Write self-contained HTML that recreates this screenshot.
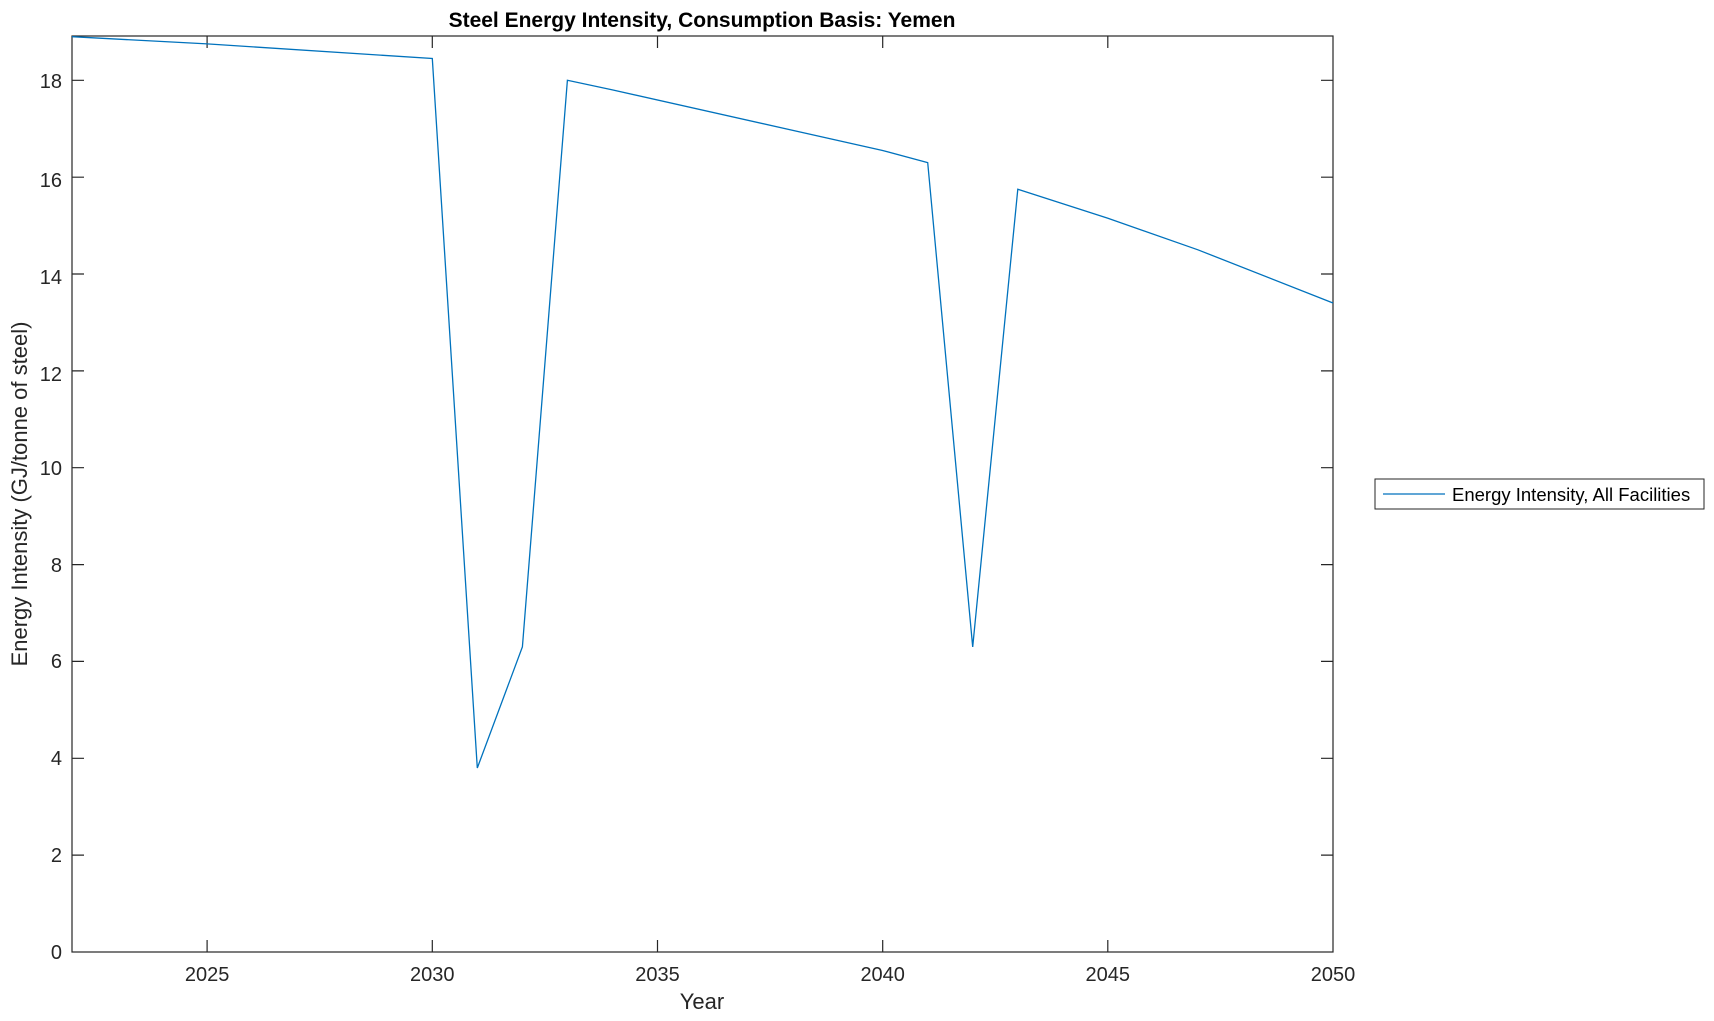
<!DOCTYPE html>
<html><head><meta charset="utf-8"><style>body{margin:0;background:#fff}svg{display:block}</style></head>
<body>
<svg width="1714" height="1021" viewBox="0 0 1714 1021" xmlns="http://www.w3.org/2000/svg" font-family="Liberation Sans, Arial, sans-serif">
<rect width="1714" height="1021" fill="#fff"/>
<g stroke="#262626" stroke-width="1.2" fill="none">
<rect x="72" y="36" width="1261" height="916"/>
<!-- x ticks -->
<path d="M207.1 952v-12M207.1 36v12M432.3 952v-12M432.3 36v12M657.5 952v-12M657.5 36v12M882.7 952v-12M882.7 36v12M1107.8 952v-12M1107.8 36v12"/>
<!-- y ticks -->
<path d="M72 855.1h12M1333 855.1h-12M72 758.3h12M1333 758.3h-12M72 661.4h12M1333 661.4h-12M72 564.6h12M1333 564.6h-12M72 467.7h12M1333 467.7h-12M72 370.9h12M1333 370.9h-12M72 274h12M1333 274h-12M72 177.2h12M1333 177.2h-12M72 80.3h12M1333 80.3h-12"/>
</g>
<g font-size="20" fill="#262626" text-anchor="middle">
<text x="207.1" y="981">2025</text><text x="432.3" y="981">2030</text><text x="657.5" y="981">2035</text><text x="882.7" y="981">2040</text><text x="1107.8" y="981">2045</text><text x="1333" y="981">2050</text>
</g>
<g font-size="20" fill="#262626" text-anchor="end">
<text x="62" y="959">0</text><text x="62" y="862">2</text><text x="62" y="765">4</text><text x="62" y="668">6</text><text x="62" y="572">8</text><text x="62" y="475">10</text><text x="62" y="381">12</text><text x="62" y="284">14</text><text x="62" y="187">16</text><text x="62" y="88">18</text>
</g>
<text x="702" y="1009" font-size="22" fill="#262626" text-anchor="middle">Year</text>
<text transform="translate(27,494) rotate(-90)" font-size="22" fill="#262626" text-anchor="middle">Energy Intensity (GJ/tonne of steel)</text>
<text x="702" y="27" font-size="21" font-weight="bold" fill="#000" text-anchor="middle">Steel Energy Intensity, Consumption Basis: Yemen</text>
<polyline fill="none" stroke="#0072BD" stroke-width="1.3" points="72,36.7 207.1,43.9 432.3,58.5 477.3,768 522.4,646.9 567.4,80.3 612.4,89.9 882.6,150.5 927.7,162.6 972.7,646.9 1017.8,189.2 1107.9,218.3 1197.9,249.8 1333,303"/>
<rect x="1375" y="479" width="329" height="30" fill="#fff" stroke="#262626" stroke-width="1"/>
<line x1="1383" y1="494" x2="1445" y2="494" stroke="#0072BD" stroke-width="1.3"/>
<text x="1452" y="501" font-size="18.5" fill="#000">Energy Intensity, All Facilities</text>
</svg>
</body></html>
